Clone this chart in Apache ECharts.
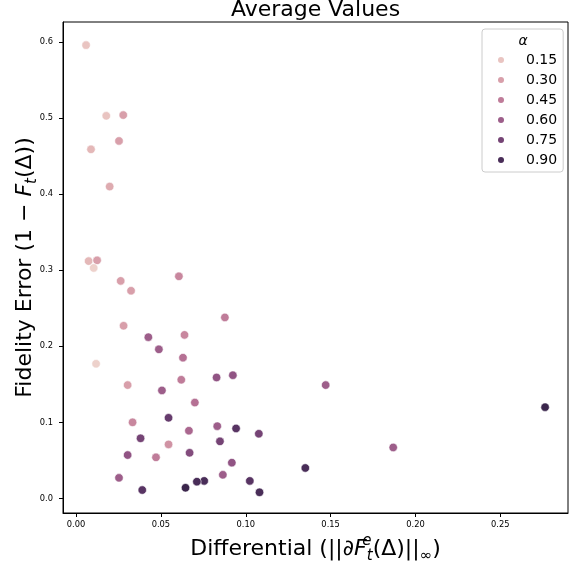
<!DOCTYPE html>
<html>
<head>
<meta charset="utf-8">
<script src="https://cdn.jsdelivr.net/npm/echarts@6/dist/echarts.min.js"></script>
<style>
  html, body { margin: 0; padding: 0; background: #fff; }
  #chart { width: 572px; height: 565px; }
</style>
</head>
<body>
<div id="chart"></div>
<script>
// differential (x), fidelity error (y) and alpha (hue) for each point
const xVals = [0.0059, 0.0178, 0.0278, 0.0253, 0.0088, 0.0198, 0.0074, 0.0124, 0.0104, 0.0263,
  0.0606, 0.0324, 0.0877, 0.0280, 0.0426, 0.0639, 0.0488, 0.0630, 0.0118, 0.0828,
  0.0924, 0.0620, 0.0304, 0.0506, 0.0700, 0.0545, 0.0333, 0.0832, 0.0943, 0.0665,
  0.1077, 0.0380, 0.0848, 0.0545, 0.0669, 0.0304, 0.0471, 0.0918, 0.1351, 0.0253,
  0.0865, 0.0755, 0.0712, 0.1024, 0.0645, 0.0390, 0.1081, 0.1471, 0.2764, 0.1869]
const yVals = [0.596, 0.503, 0.504, 0.470, 0.459, 0.410, 0.312, 0.313, 0.303, 0.286,
  0.292, 0.273, 0.238, 0.227, 0.212, 0.215, 0.196, 0.185, 0.177, 0.159,
  0.162, 0.156, 0.149, 0.142, 0.126, 0.106, 0.100, 0.095, 0.092, 0.089,
  0.085, 0.079, 0.075, 0.071, 0.060, 0.057, 0.054, 0.047, 0.040, 0.027,
  0.031, 0.023, 0.022, 0.023, 0.014, 0.011, 0.008, 0.149, 0.120, 0.067]
const alphaVals = [0.15, 0.15, 0.3, 0.3, 0.2, 0.25, 0.2, 0.3, 0.1, 0.3,
  0.4, 0.3, 0.45, 0.3, 0.6, 0.4, 0.6, 0.5, 0.1, 0.65,
  0.65, 0.45, 0.3, 0.6, 0.5, 0.8, 0.4, 0.6, 0.85, 0.55,
  0.75, 0.75, 0.75, 0.35, 0.7, 0.65, 0.45, 0.65, 0.9, 0.6,
  0.6, 0.9, 0.9, 0.85, 0.95, 0.85, 0.9, 0.6, 0.95, 0.6]

const legendAlphas = [0.15, 0.30, 0.45, 0.60, 0.75, 0.90]
const xTicks = [0, 0.05, 0.10, 0.15, 0.20, 0.25]
const yTicks = [0, 0.1, 0.2, 0.3, 0.4, 0.5, 0.6]

// seaborn-like cubehelix palette, light -> dark
const cubehelix = (l) => {
  const phi = 2 * Math.PI * (0.4 * l)
  const a = 0.8 * l * (1 - l) / 2
  const c = Math.cos(phi), s = Math.sin(phi)
  const ch = [
    l + a * (-0.14861 * c + 1.78277 * s),
    l + a * (-0.29227 * c - 0.90649 * s),
    l + a * (1.97294 * c)
  ].map(v => Math.round(Math.max(0, Math.min(1, v)) * 255))
  return 'rgb(' + ch.join(',') + ')'
}
const alphaColor = (al) => cubehelix(0.85 - 0.7 * (al - 0.1) / 0.9)

const points = xVals.map((x, i) => [x, yVals[i], alphaVals[i]])

const font = 'DejaVu Sans'
const chart = echarts.init(document.getElementById('chart'))

const legendSeries = legendAlphas.map(al => ({
  name: al.toFixed(2),
  type: 'scatter',
  data: [],
  itemStyle: { color: alphaColor(al), opacity: 1 }
}))

const subStyle = { fontSize: 15, color: '#000', lineHeight: 15, verticalAlign: 'bottom', fontStyle: 'italic' }
const tickStyle = { show: true, length: 4, lineStyle: { color: '#000', width: 1 } }
const lineStyle = { show: true, onZero: false, lineStyle: { color: '#000', width: 1 } }

chart.setOption({
  animation: false,
  textStyle: { fontFamily: font },
  title: {
    text: 'Average Values',
    left: 315.5,
    textAlign: 'center',
    top: -1,
    padding: 0,
    textStyle: { fontSize: 22, fontWeight: 'normal', color: '#000', fontFamily: font }
  },
  grid: {
    left: 63, right: 4, top: 22, bottom: 52,
    show: true, borderColor: '#000', borderWidth: 1,
    outerBoundsMode: 'none'
  },
  legend: {
    orient: 'vertical',
    left: 482,
    top: 29,
    padding: [24, 6, 5, 16],
    itemGap: 6,
    itemWidth: 6,
    itemHeight: 6,
    icon: 'circle',
    data: legendAlphas.map(al => al.toFixed(2)),
    backgroundColor: 'rgba(255,255,255,0.8)',
    borderColor: '#cccccc',
    borderWidth: 1,
    borderRadius: 3,
    textStyle: { fontSize: 14, lineHeight: 14, padding: [0, 0, 0, 17], color: '#000', fontFamily: font }
  },
  graphic: [{
    type: 'text',
    z: 100,
    style: {
      text: 'α', x: 523, y: 41,
      font: 'italic 14px "DejaVu Sans"',
      fill: '#000', textAlign: 'center', textVerticalAlign: 'middle'
    }
  }],
  xAxis: {
    type: 'value',
    min: -0.0077,
    max: 0.2899,
    splitLine: { show: false },
    axisLine: lineStyle,
    axisTick: Object.assign({ customValues: xTicks }, tickStyle),
    axisLabel: {
      customValues: xTicks, margin: 8, fontSize: 8.3, color: '#000',
      formatter: v => v.toFixed(2)
    },
    name: 'Differential (||∂{i|F}{sup|e}{sub|t}(Δ)||{sub|∞})',
    nameLocation: 'middle',
    nameGap: 18,
    nameTextStyle: {
      fontSize: 22, color: '#000', lineHeight: 30,
      rich: {
        i: { fontSize: 22, fontStyle: 'italic', color: '#000', lineHeight: 30 },
        sub: subStyle,
        sup: { fontSize: 15, color: '#000', lineHeight: 23, verticalAlign: 'top', fontStyle: 'italic', width: 0 }
      }
    }
  },
  yAxis: {
    type: 'value',
    min: -0.0192,
    max: 0.6264,
    splitLine: { show: false },
    axisLine: lineStyle,
    axisTick: Object.assign({ customValues: yTicks }, tickStyle),
    axisLabel: {
      customValues: yTicks, margin: 10, fontSize: 8.3, color: '#000',
      formatter: v => v.toFixed(1)
    },
    name: 'Fidelity Error (1 − {i|F}{sub|t}(Δ))',
    nameLocation: 'middle',
    nameMoveOverlap: false,
    nameGap: 23,
    nameTextStyle: {
      fontSize: 22, color: '#000', lineHeight: 30,
      rich: {
        i: { fontSize: 22, fontStyle: 'italic', color: '#000', lineHeight: 30 },
        sub: subStyle
      }
    }
  },
  series: [{
    type: 'scatter',
    data: points,
    symbolSize: 8.5,
    itemStyle: {
      color: p => alphaColor(p.value[2]),
      borderColor: '#fff',
      borderWidth: 0.6,
      opacity: 1
    }
  }].concat(legendSeries)
})
</script>
</body>
</html>
